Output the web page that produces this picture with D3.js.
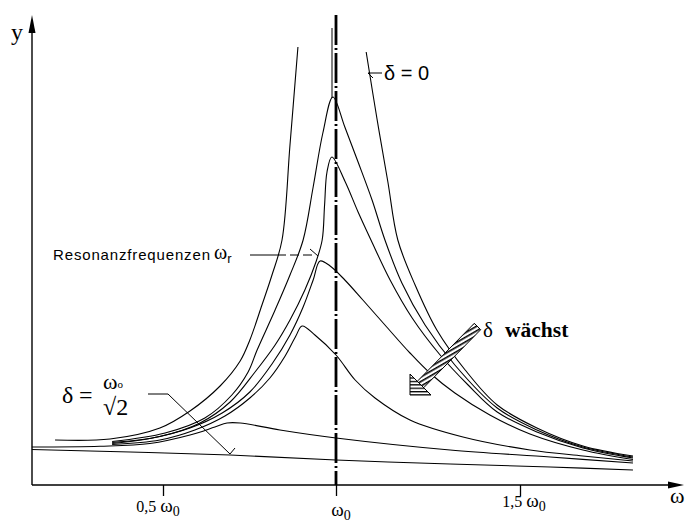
<!DOCTYPE html>
<html>
<head>
<meta charset="utf-8">
<script src="https://cdn.jsdelivr.net/npm/d3@7/dist/d3.min.js"></script>
<style>
html,body{margin:0;padding:0;background:#fff;}
svg{display:block;}
</style>
</head>
<body>
<svg id="chart" width="688" height="525"></svg>
<script>
// ---- data: omega / omega0 , amplitude (arbitrary units) ----
const delta0Left  = [[0.188,4.5],[0.347,4.6],[0.491,5.7],[0.578,7.4],[0.665,9.9],[0.723,12.4],[0.751,14.5],[0.786,18.0],[0.815,21.0],[0.844,24.5],[0.867,34.0],[0.890,43.8]];
const delta0Right = [[1.082,43.3],[1.111,36.7],[1.141,30.3],[1.168,24.5],[1.215,20.0],[1.274,15.5],[1.351,11.5],[1.438,8.0],[1.546,5.7],[1.671,3.9],[1.807,2.9]];
const delta1 = [[0.353,4.35],[0.506,5.2],[0.621,6.7],[0.699,9.0],[0.746,11.3],[0.772,13.5],[0.824,17.5],[0.867,21.0],[0.905,24.5],[0.934,29.8],[0.962,35.2],[0.991,38.8],[1.024,35.8],[1.060,32.3],[1.098,28.5],[1.133,24.5],[1.179,20.2],[1.242,16.0],[1.323,12.0],[1.438,7.7],[1.546,5.5],[1.671,3.8],[1.807,2.8]];
const delta2 = [[0.353,4.25],[0.491,4.85],[0.607,6.2],[0.694,8.3],[0.766,11.3],[0.824,14.0],[0.867,16.5],[0.910,19.5],[0.942,22.3],[0.960,24.5],[0.967,28.0],[0.974,31.3],[0.988,32.8],[1.024,30.4],[1.060,27.3],[1.095,24.5],[1.147,20.5],[1.207,16.7],[1.283,13.0],[1.359,10.0],[1.438,7.3],[1.546,5.3],[1.671,3.7],[1.807,2.7]];
const delta3 = [[0.353,4.15],[0.462,4.65],[0.578,5.7],[0.671,7.2],[0.751,9.3],[0.815,12.1],[0.867,15.0],[0.905,17.8],[0.934,20.5],[0.954,22.4],[0.983,21.9],[1.024,20.5],[1.073,18.5],[1.133,16.0],[1.201,13.2],[1.255,11.2],[1.323,9.2],[1.418,7.0],[1.527,5.1],[1.671,3.5],[1.807,2.55]];
const delta4 = [[0.353,4.05],[0.491,4.5],[0.592,5.5],[0.679,6.9],[0.751,8.7],[0.809,10.7],[0.853,12.9],[0.884,14.9],[0.902,15.9],[0.939,15.0],[1.0,13.0],[1.052,10.5],[1.106,8.7],[1.201,6.5],[1.345,4.8],[1.527,3.5],[1.671,2.9],[1.807,2.4]];
const delta5 = [[0.121,3.8],[0.318,3.87],[0.462,4.15],[0.578,5.0],[0.650,5.8],[0.685,6.2],[0.723,6.2],[0.838,5.5],[1.0,4.7],[1.310,3.5],[1.582,2.8],[1.807,2.2]];
const deltaCrit = [[0.121,3.55],[0.405,3.3],[0.694,3.0],[1.0,2.5],[1.310,2.1],[1.582,1.8],[1.807,1.5]];

const tickValues = [0.5, 1, 1.5];
const tickNumbers = ["0,5 ", "", "1,5 "];
const omegaZero = 1;

// ---- scales ----
const x = d3.scaleLinear().domain([0.5, 1, 1.5]).range([163, 336, 520]);
const y = d3.scaleLinear().domain([0, 47]).range([485, 15]);

const svg = d3.select("#chart");
const serif = "'Liberation Serif','Times New Roman',serif";
const sans = "'Liberation Sans',Arial,sans-serif";

// ---- patterns ----
const defs = svg.append("defs");
const p1 = defs.append("pattern").attr("id","hatchShaft").attr("patternUnits","userSpaceOnUse")
  .attr("width",4).attr("height",4).attr("patternTransform","rotate(-30)");
p1.append("rect").attr("width",4).attr("height",4).attr("fill","#fff");
p1.append("rect").attr("width",4).attr("height",1.6).attr("fill","#000");
const p2 = defs.append("pattern").attr("id","hatchHead").attr("patternUnits","userSpaceOnUse")
  .attr("width",4).attr("height",3.4);
p2.append("rect").attr("width",4).attr("height",3.4).attr("fill","#fff");
p2.append("rect").attr("width",4).attr("height",1.3).attr("fill","#000");

// ---- axes ----
const xAxis = d3.axisBottom(x).tickValues(tickValues).tickSize(11).tickFormat("");
svg.append("g").attr("transform", `translate(0,${y(0)})`).call(xAxis)
  .call(g => g.select(".domain").remove())
  .call(g => g.selectAll(".tick line").attr("stroke","#000").attr("stroke-width",1.3));

svg.append("line").attr("x1",32).attr("x2",676).attr("y1",y(0)).attr("y2",y(0))
  .attr("stroke","#000").attr("stroke-width",1.4);
svg.append("polygon").attr("points",`684,${y(0)} 668,${y(0)-3.5} 668,${y(0)+3.5}`).attr("fill","#000");
svg.append("line").attr("x1",32).attr("x2",32).attr("y1",y(0)).attr("y2",22)
  .attr("stroke","#000").attr("stroke-width",1.4);
svg.append("polygon").attr("points","32,15 28.5,33 35.5,33").attr("fill","#000");

// omega0 dash-dot line (with thin companion line near the top)
svg.append("line").attr("x1",x(omegaZero)).attr("x2",x(omegaZero)).attr("y1",15).attr("y2",y(0))
  .attr("stroke","#000").attr("stroke-width",2.8).attr("stroke-dasharray","30,3,2,3");
svg.append("line").attr("x1",x(omegaZero)-4).attr("x2",x(omegaZero)-4).attr("y1",28).attr("y2",98)
  .attr("stroke","#000").attr("stroke-width",1);

// ---- curves ----
const line = d3.line().x(d => x(d[0])).y(d => y(d[1])).curve(d3.curveCatmullRom.alpha(0.5));
[delta0Left, delta0Right, delta1, delta2, delta3, delta4, delta5, deltaCrit].forEach(s => {
  svg.append("path").attr("d", line(s)).attr("fill","none").attr("stroke","#000").attr("stroke-width",1.1);
});

// ---- tick labels ----
const tickDx = [-5, 5, 4], tickBase = [512, 516, 507];
tickValues.forEach((v, i) => {
  const t = svg.append("text").attr("x", x(v) + tickDx[i]).attr("y", tickBase[i])
    .attr("text-anchor","middle").attr("font-family", serif).attr("font-size", 16);
  if (tickNumbers[i]) t.append("tspan").text(tickNumbers[i]);
  t.append("tspan").attr("font-size", 19).text("ω");
  t.append("tspan").attr("font-size", 14).attr("dy", 4).text("0");
});

// axis labels
svg.append("text").attr("x",11).attr("y",40).attr("font-family",serif).attr("font-size",24).text("y");
svg.append("text").attr("x",670).attr("y",503).attr("font-family",serif).attr("font-size",22).text("ω");

// delta = 0 label
svg.append("line").attr("x1",368).attr("x2",382).attr("y1",73).attr("y2",73).attr("stroke","#000");
svg.append("line").attr("x1",368).attr("x2",373).attr("y1",73).attr("y2",78).attr("stroke","#000");
svg.append("text").attr("x",384).attr("y",80).attr("font-family",sans).attr("font-size",20).text("δ = 0");

// Resonanzfrequenzen
svg.append("text").attr("x",53).attr("y",260).attr("font-family",sans).attr("font-size",15)
  .attr("textLength",157).attr("lengthAdjust","spacing").text("Resonanzfrequenzen");
const wr = svg.append("text").attr("x",214).attr("y",259).attr("font-family",serif).attr("font-size",20);
wr.append("tspan").text("ω");
wr.append("tspan").attr("font-family",sans).attr("font-size",13).attr("dy",4).text("r");
svg.append("line").attr("x1",250).attr("x2",277).attr("y1",255).attr("y2",255).attr("stroke","#000");
svg.append("line").attr("x1",277).attr("x2",316).attr("y1",255).attr("y2",255).attr("stroke","#000").attr("stroke-dasharray","9,4");
svg.append("line").attr("x1",310).attr("x2",318).attr("y1",249).attr("y2",256).attr("stroke","#000");

// delta = omega0 / sqrt2 label
svg.append("text").attr("x",62).attr("y",403).attr("font-family",serif).attr("font-size",24).text("δ");
svg.append("text").attr("x",79).attr("y",403).attr("font-family",serif).attr("font-size",24).text("=");
const w0 = svg.append("text").attr("x",103).attr("y",389).attr("font-family",serif).attr("font-size",22);
w0.append("tspan").text("ω");
w0.append("tspan").attr("font-size",11).attr("dy",-1).text("o");
svg.append("text").attr("x",103).attr("y",415).attr("font-family",serif).attr("font-size",24).text("√2");
svg.append("polyline").attr("points","148,394 168,394 230,454 235,448").attr("fill","none").attr("stroke","#000");

// delta waechst arrow
svg.append("polygon").attr("points","417.3,381.3 423.7,387.7 480.7,329.7 474.3,323.3")
  .attr("fill","url(#hatchShaft)").attr("stroke","#000").attr("stroke-width",1);
svg.append("polygon").attr("points","410,395 410,374 431,395")
  .attr("fill","url(#hatchHead)").attr("stroke","#000").attr("stroke-width",1);
svg.append("text").attr("x",483).attr("y",337).attr("font-family",serif).attr("font-size",21).text("δ");
svg.append("text").attr("x",505).attr("y",337).attr("font-family",serif).attr("font-size",21.5)
  .attr("font-weight","bold").text("wächst");
</script>
</body>
</html>
